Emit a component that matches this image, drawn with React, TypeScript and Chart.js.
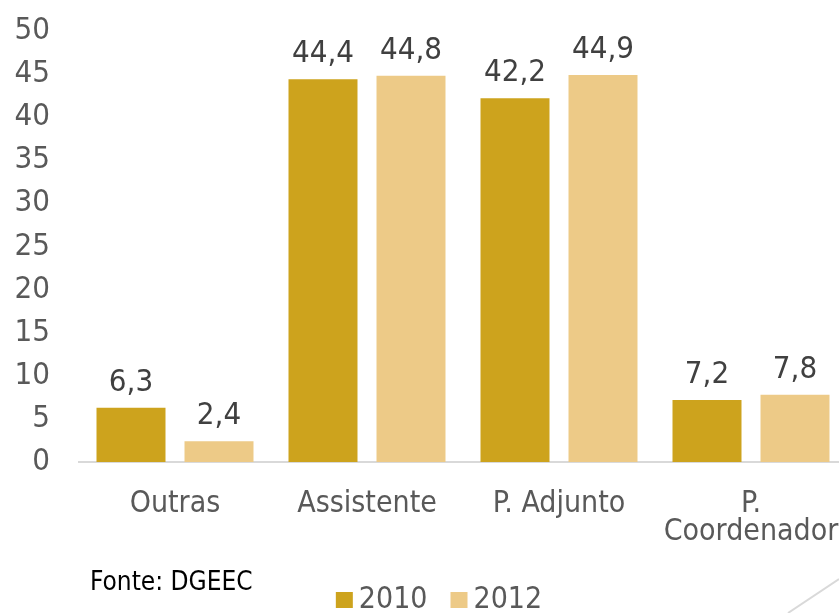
import React, { useEffect, useRef } from "react";
import { Chart, registerables } from "chart.js";

Chart.register(...registerables);

const categories: (string | string[])[] = ["Outras", "Assistente", "P. Adjunto", ["P.", "Coordenador"]];
const seriesLabels = ["2010", "2012"];
const values2010 = [6.3, 44.4, 42.2, 7.2];
const values2012 = [2.4, 44.8, 44.9, 7.8];
const seriesColors = ["#CDA31D", "#EDCA87"];
const yTicksMax = 50;
const yTicksStep = 5;
const sourceText = "Fonte: DGEEC";

const FONT = "'DejaVu Sans Condensed', 'DejaVu Sans', sans-serif";

const valueLabelPlugin = {
  id: "valueLabels",
  afterDatasetsDraw(chart: any) {
    const ctx = chart.ctx;
    ctx.save();
    ctx.font = `31px ${FONT}`;
    ctx.fillStyle = "#404040";
    ctx.textAlign = "center";
    ctx.textBaseline = "alphabetic";
    chart.data.datasets.forEach((ds: any, di: number) => {
      const meta = chart.getDatasetMeta(di);
      meta.data.forEach((bar: any, i: number) => {
        const v = ds.data[i];
        const txt = v.toFixed(1).replace(".", ",");
        ctx.fillText(txt, bar.x, bar.y - 17);
      });
    });
    ctx.restore();
  },
};

const customLegendPlugin = {
  id: "customLegend",
  afterDraw(chart: any) {
    const ctx = chart.ctx;
    ctx.save();
    ctx.font = `30px ${FONT}`;
    const box = 17;
    const gap = 6;
    const itemGap = 23;
    const items = chart.data.datasets.map((ds: any) => ({
      label: ds.label,
      color: ds.backgroundColor,
      w: box + gap + ctx.measureText(ds.label).width,
    }));
    const total = items.reduce((s: number, it: any) => s + it.w, 0) + itemGap * (items.length - 1);
    const cx = 439;
    const cy = 599;
    let x = cx - total / 2;
    ctx.textBaseline = "middle";
    ctx.textAlign = "left";
    items.forEach((it: any) => {
      ctx.fillStyle = it.color;
      ctx.fillRect(x, cy - 7, box, box - 1);
      ctx.fillStyle = "#595959";
      ctx.fillText(it.label, x + box + gap, cy + 1);
      x += it.w + itemGap;
    });
    ctx.restore();
  },
};

export default function App() {
  const canvasRef = useRef<HTMLCanvasElement | null>(null);

  useEffect(() => {
    if (!canvasRef.current) return;
    const chart = new Chart(canvasRef.current, {
      type: "bar",
      data: {
        labels: categories,
        datasets: [
          {
            label: seriesLabels[0],
            data: values2010,
            backgroundColor: seriesColors[0],
            categoryPercentage: 0.9167,
            barPercentage: 0.784,
          },
          {
            label: seriesLabels[1],
            data: values2012,
            backgroundColor: seriesColors[1],
            categoryPercentage: 0.9167,
            barPercentage: 0.784,
          },
        ],
      },
      options: {
        responsive: false,
        animation: false,
        layout: { padding: { top: 31, right: 33, left: 0, bottom: 0 } },
        plugins: {
          legend: { display: false },
          tooltip: { enabled: false },
        },
        scales: {
          x: {
            grid: { display: false, drawTicks: false },
            border: { display: true, color: "#D9D9D9", width: 2 },
            ticks: {
              color: "#595959",
              font: { family: FONT, size: 30, lineHeight: 0.933 },
              padding: 28,
              maxRotation: 0,
              autoSkip: false,
            },
            afterFit(scale: any) {
              scale.height = 151;
            },
          },
          y: {
            min: 0,
            max: yTicksMax,
            grid: { display: false, drawTicks: false },
            border: { display: false },
            ticks: {
              stepSize: yTicksStep,
              color: "#595959",
              font: { family: FONT, size: 31 },
              padding: 29,
            },
            afterFit(scale: any) {
              scale.width = 79;
              scale.paddingTop = 0;
              scale.paddingBottom = 0;
            },
          },
        },
      },
      plugins: [valueLabelPlugin, customLegendPlugin],
    });
    return () => chart.destroy();
  }, []);

  return (
    <div
      style={{
        position: "fixed",
        left: 0,
        top: 0,
        width: 839,
        height: 613,
        overflow: "hidden",
        background: "#fff",
      }}
    >
      <canvas ref={canvasRef} width={880} height={613} style={{ display: "block" }} />
      <div
        style={{
          position: "absolute",
          left: 90,
          top: 566,
          fontFamily: FONT,
          fontSize: 26,
          color: "#000",
          whiteSpace: "nowrap",
          lineHeight: "30px",
        }}
      >
        {sourceText}
      </div>
      <svg
        width={839}
        height={613}
        style={{ position: "absolute", left: 0, top: 0, pointerEvents: "none" }}
      >
        <line x1={839} y1={579} x2={788} y2={613} stroke="#D9D9D9" strokeWidth={2} />
      </svg>
    </div>
  );
}
